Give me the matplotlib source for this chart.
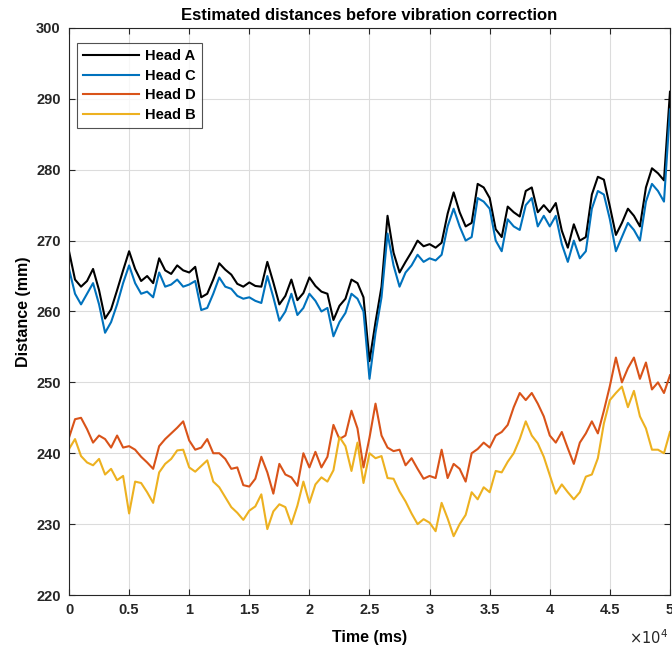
import numpy as np
import matplotlib
matplotlib.use("Agg")
import matplotlib.pyplot as plt

plt.rcParams['font.family'] = ['Liberation Sans', 'DejaVu Sans']

# Sample times (ms), one reading every 500 ms
time_ms = np.arange(0, 50001, 500)

head_a = [268.5, 264.5, 263.5, 264.3, 266.0, 263.0, 259.0, 260.3, 263.0, 265.8,
          268.5, 266.0, 264.3, 265.0, 264.0, 267.5, 265.8, 265.3, 266.5, 265.8,
          265.5, 266.3, 262.0, 262.5, 264.5, 266.8, 265.9, 265.2, 263.9, 263.5,
          264.1, 263.6, 263.5, 267.0, 264.1, 261.0, 262.2, 264.5, 261.6, 262.6,
          264.8, 263.6, 262.8, 262.5, 258.8, 260.8, 261.8, 264.5, 264.0, 262.0,
          253.0, 258.5, 263.5, 273.5, 268.3, 265.5, 267.0, 268.4, 270.0, 269.2,
          269.5, 269.0, 269.7, 273.8, 276.8, 274.0, 272.0, 272.5, 278.0, 277.5,
          276.0, 271.6, 270.5, 274.8, 274.0, 273.4, 277.0, 277.5, 274.0, 275.0,
          274.0, 275.3, 271.4, 269.0, 272.3, 270.0, 270.5, 276.5, 279.0, 278.6,
          274.8, 270.8, 272.5, 274.5, 273.5, 272.0, 277.5, 280.2, 279.5, 278.5,
          291.0]

head_c = [266.0, 262.5, 261.0, 262.5, 264.0, 261.0, 257.0, 258.5, 261.0, 264.0,
          266.5, 264.0, 262.5, 262.8, 262.0, 265.5, 263.5, 263.8, 264.5, 263.5,
          263.8, 264.3, 260.2, 260.5, 262.5, 264.8, 263.5, 263.2, 262.2, 261.8,
          262.0, 261.5, 261.2, 265.0, 262.0, 258.7, 260.0, 262.5, 259.5, 260.5,
          262.5, 261.5, 260.0, 260.5, 256.5, 258.5, 259.8, 262.5, 261.8, 260.0,
          250.5, 257.0, 262.0, 271.0, 266.5, 263.5, 265.5, 266.5, 268.0, 267.0,
          267.5, 267.2, 268.0, 272.0, 274.5, 272.0, 270.0, 270.5, 276.0, 275.5,
          274.5, 270.0, 268.5, 273.0, 272.0, 271.5, 275.0, 276.0, 272.0, 273.5,
          272.0, 273.5, 269.5, 267.0, 270.0, 267.5, 268.5, 274.5, 277.0, 276.5,
          273.0, 268.5, 270.5, 272.5, 271.5, 270.0, 275.5, 278.0, 277.0, 275.5,
          288.5]

head_d = [242.2, 244.8, 245.0, 243.4, 241.5, 242.5, 242.0, 240.8, 242.5, 240.8,
          241.0, 240.5, 239.5, 238.7, 237.8, 241.0, 242.0, 242.8, 243.6, 244.5,
          241.8, 240.5, 240.8, 242.0, 240.0, 240.0, 239.2, 237.8, 238.0, 235.5,
          235.3, 236.4, 239.5, 237.3, 234.3, 238.5, 237.0, 236.6, 235.4, 240.0,
          238.0, 240.2, 238.0, 239.5, 244.0, 242.0, 242.5, 246.0, 243.5, 238.0,
          242.2, 247.0, 242.5, 240.8, 240.3, 240.5, 238.3, 239.3, 237.8, 236.4,
          236.8, 236.5, 240.5, 236.5, 238.5, 237.8, 236.0, 240.0, 240.6, 241.5,
          240.8, 242.5, 243.0, 244.0, 246.5, 248.5, 247.5, 248.5, 247.0, 245.2,
          242.5, 241.5, 243.0, 240.7, 238.5, 241.5, 242.8, 244.5, 242.8, 246.0,
          249.5, 253.5, 250.0, 252.0, 253.5, 250.5, 252.8, 249.0, 250.0, 248.5,
          251.0]

head_b = [240.6, 242.0, 239.6, 238.7, 238.3, 239.2, 237.0, 237.8, 236.2, 236.8,
          231.5, 236.0, 235.8, 234.5, 233.0, 237.3, 238.5, 239.2, 240.4, 240.5,
          238.0, 237.4, 238.2, 239.0, 236.0, 235.2, 233.8, 232.4, 231.6, 230.6,
          231.9, 232.5, 234.2, 229.3, 231.8, 232.8, 232.4, 230.0, 232.6, 236.0,
          233.0, 235.6, 236.6, 236.0, 237.6, 242.3, 241.0, 237.5, 241.5, 235.8,
          240.0, 239.3, 239.6, 236.5, 236.4, 234.6, 233.2, 231.5, 230.0, 230.7,
          230.2, 229.0, 233.0, 230.8, 228.3, 230.0, 231.3, 234.5, 233.5, 235.2,
          234.5, 237.5, 237.3, 238.8, 240.0, 242.0, 244.5, 242.5, 241.4, 239.5,
          236.9, 234.3, 235.6, 234.5, 233.5, 234.5, 236.7, 237.0, 239.3, 244.2,
          247.5, 248.5, 249.4, 246.5, 248.8, 245.2, 243.5, 240.5, 240.5, 240.0,
          243.0]

series_names = ["Head A", "Head C", "Head D", "Head B"]
series_values = [head_a, head_c, head_d, head_b]
series_colors = ["#000000", "#0072BD", "#D95319", "#EDB120"]

x_ticks = np.arange(0, 50001, 5000)
x_tick_labels = ["0", "0.5", "1", "1.5", "2", "2.5", "3", "3.5", "4", "4.5", "5"]
y_ticks = np.arange(220, 301, 10)

fig = plt.figure(figsize=(6.72, 6.5), dpi=100)
ax = fig.add_axes([0.1027, 0.0846, 0.8943, 0.8724])

for name, vals, col in zip(series_names, series_values, series_colors):
    ax.plot(time_ms, vals, color=col, lw=1.5, label=name)

ax.set_xlim(0, 50000)
ax.set_ylim(220, 300)
ax.set_xticks(x_ticks)
ax.set_xticklabels(x_tick_labels)
ax.set_yticks(y_ticks)

ax.grid(True, color="#dcdcdc", lw=0.8)
ax.set_axisbelow(True)
ax.tick_params(direction="in", top=True, right=True, length=4, width=0.8,
               color="#262626", labelsize=10.5, pad=6)
for lbl in ax.get_xticklabels() + ax.get_yticklabels():
    lbl.set_fontweight("bold")
    lbl.set_color("#262626")
for sp in ax.spines.values():
    sp.set_color("#262626")
    sp.set_linewidth(0.8)

ax.set_title("Estimated distances before vibration correction",
             fontsize=12, fontweight="bold", pad=6)
ax.set_xlabel("Time (ms)", fontsize=11.5, fontweight="bold", labelpad=9)
ax.set_ylabel("Distance (mm)", fontsize=11.5, fontweight="bold", labelpad=4)

ax.text(0.997, -0.076, r"$\times10^{4}$", transform=ax.transAxes,
        ha="right", va="center", fontsize=10.5, color="#262626")

leg = ax.legend(loc="upper left", bbox_to_anchor=(0.013, 0.974),
                borderaxespad=0.0,
                prop={"weight": "bold", "size": 10.5}, frameon=True,
                fancybox=False, handlelength=3.8, borderpad=0.45,
                labelspacing=0.38, handletextpad=0.4)
leg.get_frame().set_edgecolor("#262626")
leg.get_frame().set_linewidth(0.8)
for h in leg.get_lines():
    h.set_linewidth(1.5)

fig.savefig("out.png", dpi=100)
